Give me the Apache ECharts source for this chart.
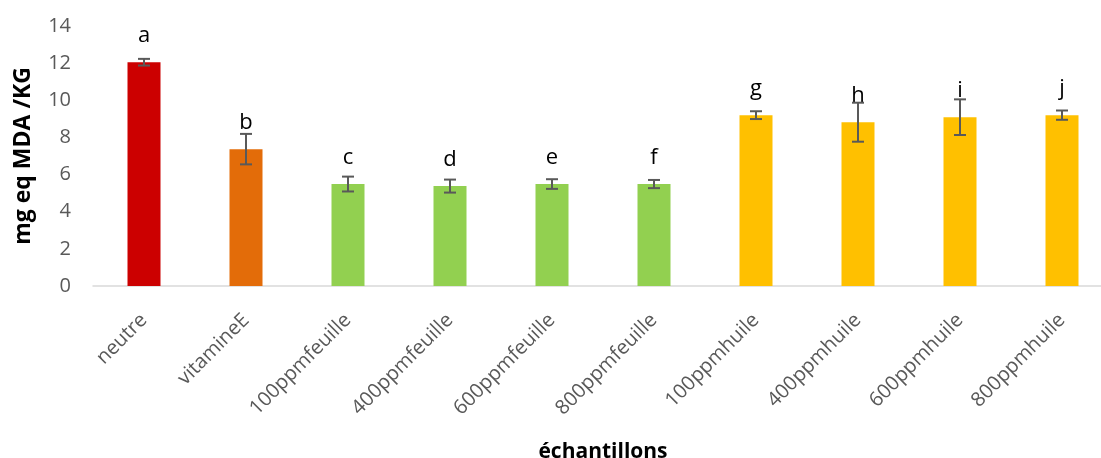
<!DOCTYPE html>
<html>
<head>
<meta charset="utf-8">
<script src="https://cdn.jsdelivr.net/npm/echarts@6/dist/echarts.min.js"></script>
<style>
  html, body { margin: 0; padding: 0; background: #fff; }
  #chart { width: 1101px; height: 458px; }
</style>
</head>
<body>
<div id="chart"></div>
<script>
// MDA content per sample, mean ± standard deviation
const categories = ['neutre', 'vitamineE', '100ppmfeuille', '400ppmfeuille', '600ppmfeuille',
  '800ppmfeuille', '100ppmhuile', '400ppmhuile', '600ppmhuile', '800ppmhuile'];
const means = [12.05, 7.37, 5.49, 5.38, 5.49, 5.49, 9.2, 8.82, 9.09, 9.2];
const errors = [0.18, 0.82, 0.4, 0.35, 0.26, 0.22, 0.21, 1.05, 0.96, 0.25];
const letters = ['a', 'b', 'c', 'd', 'e', 'f', 'g', 'h', 'i', 'j'];
const barColors = ['#CC0000', '#E36C09', '#92D050', '#92D050', '#92D050',
  '#92D050', '#FFC000', '#FFC000', '#FFC000', '#FFC000'];
const yTicks = [0, 2, 4, 6, 8, 10, 12, 14];

const font = '"Open Sans", Lato, sans-serif';
const chart = echarts.init(document.getElementById('chart'));

chart.setOption({
  animation: false,
  grid: { left: 93, top: 26, width: 1020, bottom: 172, containLabel: false, outerBoundsMode: 'none' },
  xAxis: {
    type: 'category',
    data: categories,
    name: 'échantillons',
    nameLocation: 'middle',
    nameGap: 156,
    nameTextStyle: { fontFamily: font, fontWeight: 'bold', fontSize: 21, color: '#000' },
    axisLine: { lineStyle: { color: '#D9D9D9', width: 1.5 } },
    axisTick: { show: false },
    axisLabel: { rotate: 45, margin: 31, fontFamily: font, fontSize: 20, color: '#595959', interval: 0 }
  },
  yAxis: {
    type: 'value',
    min: yTicks[0],
    max: yTicks[yTicks.length - 1],
    interval: 2,
    name: 'mg eq MDA /KG',
    nameLocation: 'middle',
    nameGap: 58,
    nameTextStyle: { fontFamily: font, fontWeight: 'bold', fontSize: 23, color: '#000' },
    splitLine: { show: false },
    axisLine: { show: false },
    axisTick: { show: false },
    axisLabel: { margin: 22, fontFamily: font, fontSize: 20, color: '#595959' }
  },
  series: [
    {
      type: 'bar',
      barWidth: 33,
      data: means.map((v, i) => ({ value: v, itemStyle: { color: barColors[i] } })),
      label: {
        show: true,
        position: 'top',
        distance: 15,
        fontFamily: font,
        fontSize: 22,
        color: '#000',
        formatter: p => letters[p.dataIndex]
      }
    },
    {
      type: 'custom',
      z: 5,
      data: means.map((v, i) => [i, v - errors[i], v + errors[i]]),
      renderItem: (params, api) => {
        const x = api.value(0);
        const lo = api.coord([x, api.value(1)]);
        const hi = api.coord([x, api.value(2)]);
        const cap = 6;
        const style = { stroke: '#595959', lineWidth: 2 };
        return {
          type: 'group',
          children: [
            { type: 'line', shape: { x1: lo[0], y1: lo[1], x2: hi[0], y2: hi[1] }, style },
            { type: 'line', shape: { x1: hi[0] - cap, y1: hi[1], x2: hi[0] + cap, y2: hi[1] }, style },
            { type: 'line', shape: { x1: lo[0] - cap, y1: lo[1], x2: lo[0] + cap, y2: lo[1] }, style }
          ]
        };
      }
    }
  ]
});
</script>
</body>
</html>
